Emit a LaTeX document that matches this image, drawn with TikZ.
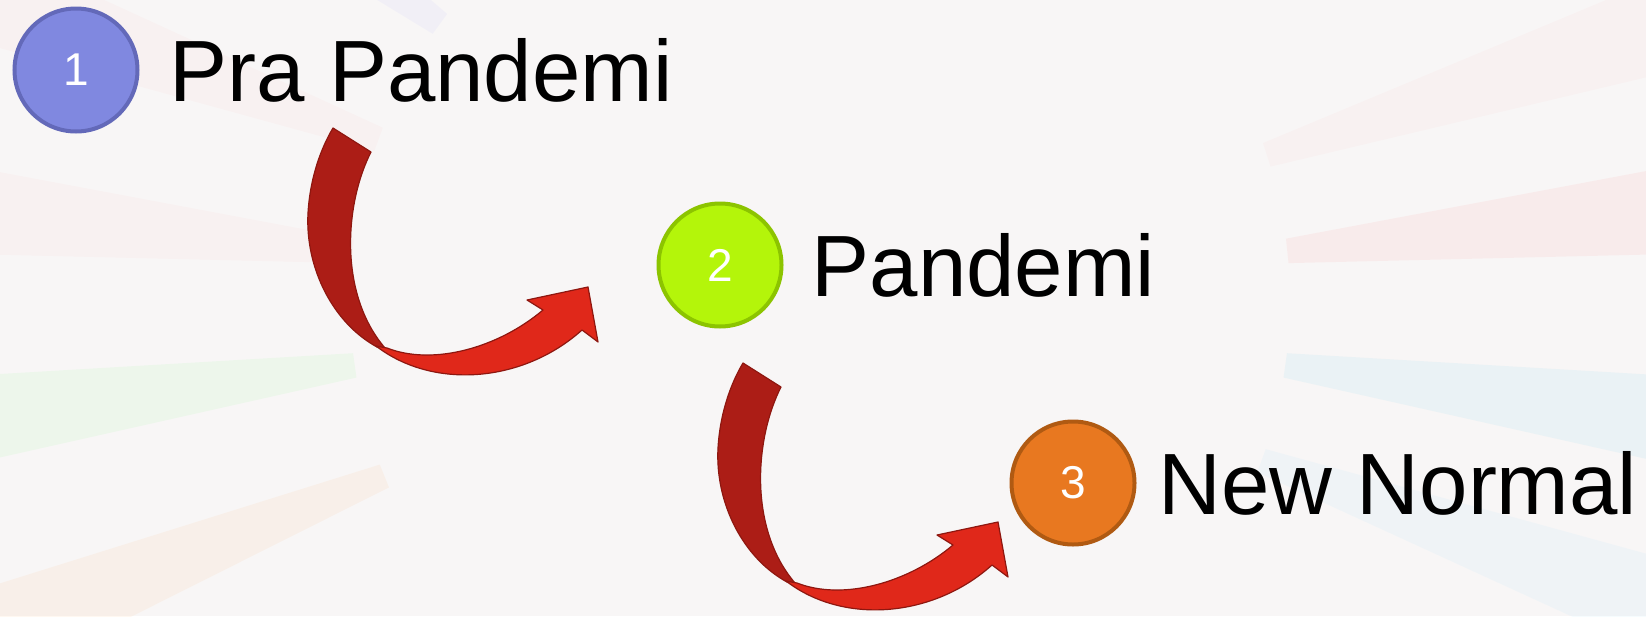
\documentclass[tikz,border=0pt]{standalone}
\usepackage{fontspec}
\setmainfont{Liberation Sans}
\usetikzlibrary{positioning}
\definecolor{bgcol}{HTML}{F8F6F6}
\definecolor{purp}{HTML}{8088E0}
\definecolor{purpline}{HTML}{6369B9}
\definecolor{lime}{HTML}{B4F50A}
\definecolor{limeline}{HTML}{8CC400}
\definecolor{orng}{HTML}{E87820}
\definecolor{orngline}{HTML}{B05A12}
\definecolor{darkred}{HTML}{AC1D16}
\definecolor{brightred}{HTML}{E0281A}
\definecolor{redline}{HTML}{8E1710}

% curved ribbon arrow, tail corner at the origin of the scope
\newcommand{\redarrow}{
 \filldraw[fill=darkred,draw=redline,line width=1.2pt,line join=round]
  (0,0) -- (38,24) .. controls (12,75) and (5,165) .. (52,220)
  -- (44,219) .. controls (0,195) and (-28,140) .. (-25,85)
  .. controls (-23,50) and (-12,20) .. (0,0) -- cycle;
 \filldraw[fill=brightred,draw=redline,line width=1.2pt,line join=round]
  (43,218) .. controls (100,262) and (190,255) .. (249,202)
  -- (265,214) -- (255,159) -- (194,172) -- (210,182)
  .. controls (165,220) and (100,238) .. (54,220) -- cycle;
}

\begin{document}
\begin{tikzpicture}[x=1pt,y=-1pt,
 num/.style={circle,minimum size=123pt,inner sep=0pt,line width=4pt,text=white,
  font=\fontsize{46}{54}\selectfont},
 lbl/.style={inner sep=0pt,anchor=west,font=\fontsize{87}{100}\selectfont}]
 \useasboundingbox (0,0) rectangle (1646,616);
 \fill[bgcol] (0,0) rectangle (1646,616);
 % faint pencil streaks of the background
 \foreach \a/\c in {172/green!50,186/pink,200/pink,216/blue!30,
   342/pink,354/red!50,8/cyan!60,20/cyan!40,158/orange!60}
  \fill[\c,opacity=0.09,shift={(820,300)}]
   (\a-1.5:470) -- (\a-3.5:1300) -- (\a+3.5:1300) -- (\a+1.5:470) -- cycle;

 % steps
 \node[num,fill=purp,draw=purpline] (c1) at (76,70) {1};
 \node[num,fill=lime,draw=limeline] (c2) at (720,265) {2};
 \node[num,fill=orng,draw=orngline] (c3) at (1073,483) {3};
 \node[lbl,right=30pt of c1] (t1) {Pra Pandemi};
 \node[lbl,right=28pt of c2] (t2) {Pandemi};
 \node[lbl,right=22pt of c3] (t3) {New Normal};

 % arrows
 \coordinate (a1) at (333,128);
 \coordinate (a2) at (743,363);
 \begin{scope}[shift={(a1)}]
  \redarrow
 \end{scope}
 \begin{scope}[shift={(a2)}]
  \redarrow
 \end{scope}
\end{tikzpicture}
\end{document}
